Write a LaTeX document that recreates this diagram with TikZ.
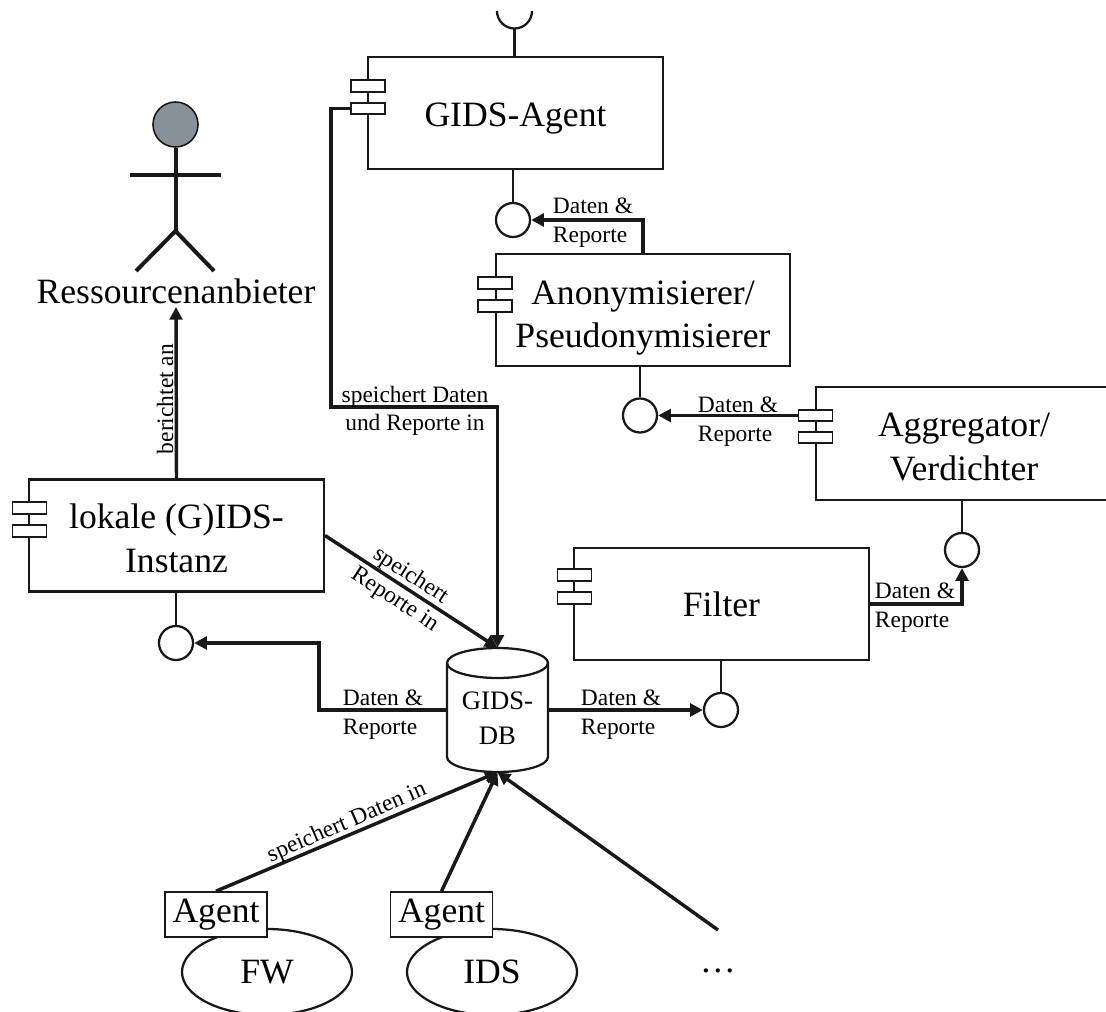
\documentclass[tikz,border=0pt]{standalone}
\usepackage{fontspec}
\setmainfont{Liberation Serif}
\usetikzlibrary{arrows.meta, shapes.geometric}
\definecolor{headgray}{HTML}{87919A}
\tikzset{
    thinline/.style={line width=1.7pt, draw=black!90},
    flow/.style={line width=2.6pt, draw=black!90, -{Triangle[length=9.5pt,width=9.5pt]}},
    flowline/.style={line width=3pt, draw=black!90},
    compbox/.style={thinline, fill=white, inner sep=0pt, align=center, minimum width=221pt, minimum height=84pt, text depth=0pt, font=\fontsize{26.7}{32.5}\selectfont},
    portbox/.style={line width=1.3pt, draw=black!90, fill=white, inner sep=0pt, minimum width=25.5pt, minimum height=8.6pt},
    iface/.style={thinline, circle, fill=white, inner sep=0pt, minimum size=25.5pt},
    agentbox/.style={line width=1.2pt, draw=black!90, fill=white, inner sep=0pt, minimum width=76.5pt, minimum height=33.75pt, font=\fontsize{26.7}{32.5}\selectfont},
    sourceshape/.style={thinline, ellipse, inner sep=0pt, minimum width=127.5pt, minimum height=64.5pt, font=\fontsize{26.7}{32.5}\selectfont},
    smalltext/.style={inner sep=0pt, align=left, font=\fontsize{17.6}{21.5}\selectfont},
    bigtext/.style={inner sep=0pt, font=\fontsize{26.7}{32.5}\selectfont}
}

\begin{document}
\begin{tikzpicture}[x=0.75pt, y=-0.75pt]
    \useasboundingbox (0,0) rectangle (1106,1012);

    \node[compbox, text height=20.5pt] (agent) at (515.5,113) {GIDS-Agent};
    \node[compbox, text height=57pt] (anon) at (643,310) {Anonymisierer/\\Pseudonymisierer};
    \node[compbox] (filter) at (721.5,604) {Filter};
    \node[compbox, text height=54.8pt] (lokal) at (176.5,535.5) {lokale (G)IDS-\\Instanz};

    \coordinate (aggTL) at (816,387);
    \coordinate (aggBL) at (816,500);
    \coordinate (aggTR) at (1106,387);
    \coordinate (aggBR) at (1106,500);
    \draw[thinline] (aggTR) -- (aggTL) -- (aggBL) -- (aggBR);
    \node[bigtext, align=center] (agg) at (964,447) {Aggregator/\\Verdichter};

    \node[portbox] (agentP1) at (368,86) {};
    \node[portbox] (agentP2) at (368,108.5) {};
    \node[portbox] (anonP1) at (495,283) {};
    \node[portbox] (anonP2) at (495,306) {};
    \node[portbox] (aggP1) at (815.5,415.5) {};
    \node[portbox] (aggP2) at (815.5,437.5) {};
    \node[portbox] (filterP1) at (574.5,575) {};
    \node[portbox] (filterP2) at (574.5,598) {};
    \node[portbox] (lokalP1) at (29.5,508) {};
    \node[portbox] (lokalP2) at (29.5,531) {};

    \node[iface] (ifAgent) at (513,220) {};
    \node[iface] (ifAnon) at (640,415.5) {};
    \node[iface] (ifAgg) at (962,550) {};
    \node[iface] (ifFilter) at (721,710) {};
    \node[iface] (ifLokal) at (176,643) {};

    \node[inner sep=0pt, minimum width=75.75pt, minimum height=93pt] (db) at (497.5,710) {};
    \draw[thinline] (447,663) arc (180:-180:50.5 and 15);
    \draw[thinline] (548,663) -- (548,757) arc (0:180:50.5 and 15) -- (447,663);
    \node[inner sep=0pt, align=center, font=\fontsize{20}{26}\selectfont] (dbText) at (497.5,718) {GIDS-\\DB};

    \coordinate (socket) at (514.5,28);
    \draw[thinline] (497,11) arc (180:0:17.5);
    \draw[thinline] (socket) -- (socket |- agent.north);

    \draw[thinline] (ifAgent |- agent.south) -- (ifAgent.north);
    \draw[thinline] (ifAnon |- anon.south) -- (ifAnon.north);
    \draw[thinline] (ifAgg |- aggBL) -- (ifAgg.north);
    \draw[thinline] (ifFilter |- filter.south) -- (ifFilter.north);
    \draw[thinline] (ifLokal |- lokal.south) -- (ifLokal.north);

    \draw[flow] (anon.north) |- (ifAgent.east);
    \draw[flow] (aggP1.west) -- (ifAnon.east);
    \draw[flow] (filter.east) -| (ifAgg.south);
    \draw[flow] (db.east) -- (ifFilter.west);
    \draw[flow] (db.west) -| (319,643) -- (ifLokal.east);
    \draw[flow] (lokal.north) -- (176,307);
    \draw[flow] (agentP2.west) -| (331,407) -| (db.north);
    \draw[flow] (lokal.east) -- (db.north);

    \node[thinline, line width=1.2pt, circle, fill=headgray, inner sep=0pt, minimum size=33.75pt] (head) at (175.5,124.5) {};
    \coordinate (hip) at (175.5,231);
    \coordinate (armL) at (130,175);
    \coordinate (armR) at (221,175);
    \coordinate (footL) at (136,271);
    \coordinate (footR) at (214,271);
    \draw[flowline] (head.south) -- (hip);
    \draw[flowline, line width=3.4pt] (armL) -- (armR);
    \draw[flowline] (footL) -- (hip) -- (footR);
    \node[bigtext] (actor) at (176,291) {Ressourcenanbieter};

    \node[sourceshape] (fw) at (267,972) {FW};
    \node[sourceshape] (ids) at (492,972) {IDS};
    \node[agentbox] (agentA) at (216,914.5) {Agent};
    \node[agentbox] (agentB) at (441.5,914.5) {Agent};
    \coordinate (more) at (718,930);
    \node[bigtext] (dots) at (718,971) {\ldots};

    \draw[flow] (agentA.north) -- (db.south);
    \draw[flow] (agentB.north) -- (db.south);
    \draw[flow] (more) -- (db.south);

    \node[smalltext] (lblAgent) at (593,222.5) {Daten \&\\Reporte};
    \node[smalltext] (lblAnon) at (738,421.5) {Daten \&\\Reporte};
    \node[smalltext] (lblFilter) at (915,608) {Daten \&\\Reporte};
    \node[smalltext] (lblDbL) at (383,714.5) {Daten \&\\Reporte};
    \node[smalltext] (lblDbR) at (621,714.5) {Daten \&\\Reporte};
    \node[smalltext, align=center] (lblStore) at (415,411) {speichert Daten\\und Reporte in};
    \node[smalltext, align=center, rotate=-33] (lblLokal) at (403,588) {speichert\\Reporte in};
    \node[smalltext, rotate=90] (lblBericht) at (165,399) {berichtet an};
    \node[smalltext, rotate=23.4] (lblFw) at (347,823) {speichert Daten in};
\end{tikzpicture}
\end{document}
